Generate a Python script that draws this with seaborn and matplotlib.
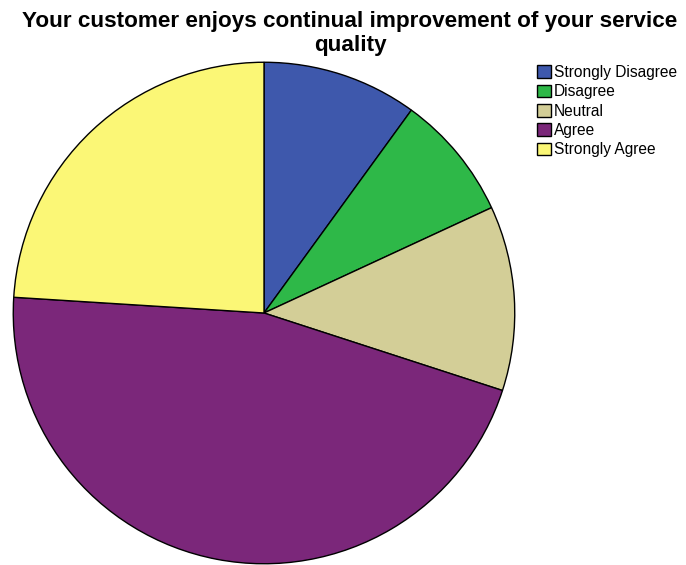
import matplotlib
matplotlib.use("Agg")
import matplotlib.pyplot as plt
import seaborn as sns

categories = ["Strongly Disagree", "Disagree", "Neutral", "Agree", "Strongly Agree"]
percentages = [10.0, 8.1, 11.9, 46.0, 24.0]
colors = ["#3E58AC", "#2EB848", "#D3CE97", "#7B277A", "#FBF776"]
title = "Your customer enjoys continual improvement of your service\nquality"

sns.set_theme(style="white")
plt.rcParams["font.family"] = ["Liberation Sans", "DejaVu Sans"]
plt.rcParams["text.color"] = "black"

W, H = 686, 565
fig = plt.figure(figsize=(W / 100, H / 100), dpi=100)
cx, cy, r = 264, 313, 252
ax = fig.add_axes([(cx - r) / W, (H - cy - r) / H, 2 * r / W, 2 * r / H])

wedges, _ = ax.pie(
    percentages,
    colors=colors,
    startangle=90,
    counterclock=False,
    radius=1,
    wedgeprops=dict(edgecolor="black", linewidth=1.0),
)
ax.set_xlim(-1.005, 1.005)
ax.set_ylim(-1.005, 1.005)
ax.axis("off")

fig.text(350 / W, 1 - 11 / H, title, ha="center", va="top",
         fontsize=16.2, fontweight="bold", linespacing=1.16)

leg = fig.legend(
    wedges, categories,
    loc="upper left",
    bbox_to_anchor=(537 / W, 1 - 65 / H),
    frameon=False,
    fontsize=11.2,
    handlelength=0.87,
    handleheight=0.87,
    handletextpad=0.2,
    labelspacing=0.28,
    borderaxespad=0,
    borderpad=0,
)
for h in leg.legend_handles:
    h.set_edgecolor("black")
    h.set_linewidth(1.0)

fig.savefig("out.png", dpi=100)
